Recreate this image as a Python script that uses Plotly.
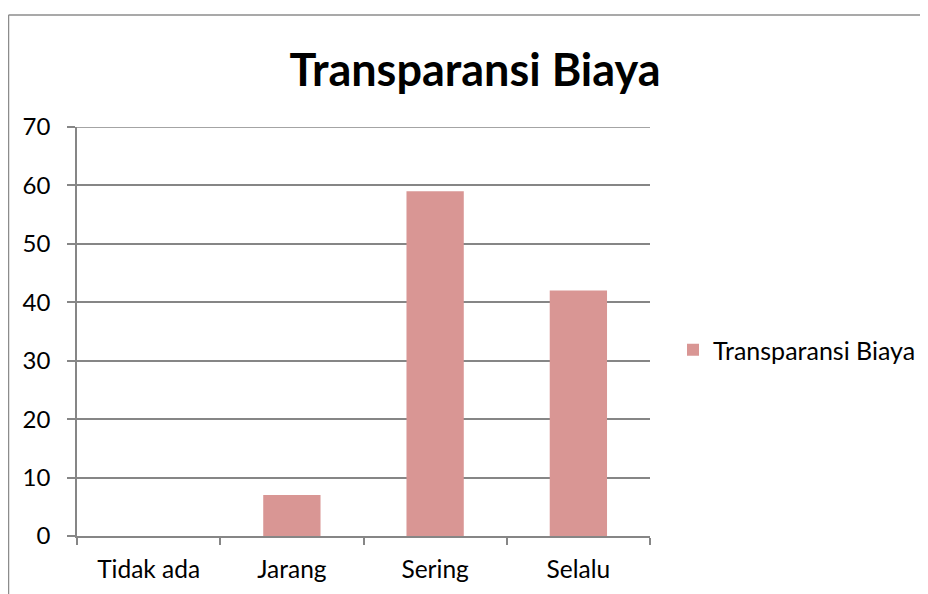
import plotly.graph_objects as go

# Data
categories = ["Tidak ada", "Jarang", "Sering", "Selalu"]
values = [0, 7, 59, 42]
series_name = "Transparansi Biaya"

# page body adds an 8px margin, so the figure is sized/positioned relative to that
OFF = 8
W, H = 928 - OFF, 594 - OFF
L, T = 77 - OFF, 127 - OFF
R = W - (650 - OFF)
B = H - (536 - OFF)

bar_color = "#D99694"
grid_color = "#868686"
font_family = "Lato, 'Open Sans', sans-serif"

pw = W - L - R
ph = H - T - B


def px_x(x):
    # screen x -> paper x
    return (x - OFF - L) / pw


def px_y(y):
    # screen y -> paper y
    return 1 - (y - OFF - T) / ph


fig = go.Figure()
fig.add_trace(go.Bar(x=categories, y=values, name=series_name,
                     marker=dict(color=bar_color, line=dict(width=0)),
                     width=0.4, showlegend=True))

# chart area border (left and top edges visible in the reference)
border = dict(color="#8C8C8C", width=1.5)
fig.add_shape(type="line", xref="paper", yref="paper",
              x0=px_x(8.5), x1=px_x(8.5), y0=px_y(600), y1=px_y(15),
              line=border)
fig.add_shape(type="line", xref="paper", yref="paper",
              x0=px_x(8.5), x1=px_x(930), y0=px_y(15), y1=px_y(15),
              line=border)
# top gridline at 70
fig.add_shape(type="line", xref="paper", yref="y",
              x0=0, x1=1, y0=70, y1=70,
              line=dict(color=grid_color, width=1.5))

fig.update_layout(
    width=W, height=H,
    margin=dict(l=L, r=R, t=T, b=B, pad=0, autoexpand=False),
    paper_bgcolor="white", plot_bgcolor="white",
    font=dict(family=font_family, size=24, color="black"),
    title=dict(text="<b>Transparansi Biaya</b>", font=dict(size=45, color="black"),
               x=(475 - OFF) / W, xanchor="center", xref="container",
               y=1 - (70 - OFF) / H, yanchor="middle", yref="container"),
    bargap=0.6,
    showlegend=True,
    legend=dict(x=px_x(673), y=px_y(350), xanchor="left", yanchor="middle",
                font=dict(size=25), itemwidth=30, bgcolor="rgba(0,0,0,0)"),
    xaxis=dict(showgrid=False, showline=True, linecolor=grid_color, linewidth=1.5,
               ticks="outside", tickson="boundaries", ticklen=7, tickcolor=grid_color,
               tickwidth=1.5, ticklabelstandoff=11, tickfont=dict(size=24.5)),
    yaxis=dict(range=[0, 70], dtick=10, showgrid=True, gridcolor=grid_color, gridwidth=1.5,
               showline=True, linecolor=grid_color, linewidth=1.5, zeroline=False,
               ticks="outside", ticklen=8, tickcolor=grid_color, tickwidth=1.5,
               ticklabelstandoff=12),
)

fig.write_html("out.html")
